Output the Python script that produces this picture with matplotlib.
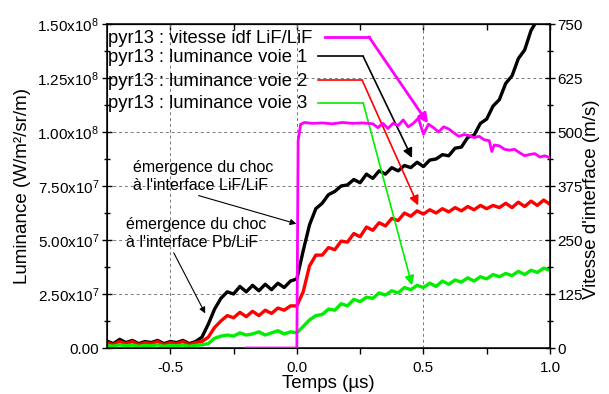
import numpy as np
import matplotlib
matplotlib.use("Agg")
import matplotlib.pyplot as plt

plt.rcParams['font.family'] = ['Liberation Sans', 'DejaVu Sans']
plt.rcParams['mathtext.fontset'] = 'custom'
plt.rcParams['mathtext.rm'] = 'Liberation Sans'
plt.rcParams['mathtext.it'] = 'Liberation Sans'

# temps (µs), pas de 0.025
t = np.linspace(-0.75, 1.0, 71)

# luminances (x1e7 W/m2/sr/m)
voie1 = [0.32, 0.20, 0.40, 0.25, 0.35, 0.20, 0.30, 0.25, 0.35, 0.20,
         0.30, 0.25, 0.35, 0.20, 0.30, 0.50, 1.10, 1.80, 2.30, 2.60,
         2.50, 2.85, 2.60, 2.90, 2.65, 2.95, 2.70, 3.00, 2.80, 3.10,
         3.20, 4.50, 5.70, 6.45, 6.70, 7.10, 7.25, 7.50, 7.55, 7.80,
         7.65, 8.05, 7.85, 8.20, 8.05, 8.35, 8.20, 8.45, 8.35, 8.60,
         8.40, 8.70, 8.75, 8.95, 8.90, 9.25, 9.30, 9.75, 9.85, 10.4,
         10.6, 11.2, 11.5, 12.25, 12.6, 13.4, 13.8, 14.7, 15.2, 16.1, 16.6]
voie2 = [0.25, 0.15, 0.30, 0.20, 0.30, 0.15, 0.25, 0.20, 0.30, 0.15,
         0.25, 0.20, 0.30, 0.15, 0.25, 0.30, 0.50, 0.95, 1.25, 1.50,
         1.40, 1.65, 1.45, 1.70, 1.50, 1.75, 1.60, 1.85, 1.75, 1.95,
         1.95, 2.60, 3.80, 4.30, 4.30, 4.65, 4.55, 4.95, 4.90, 5.30,
         5.15, 5.60, 5.45, 5.80, 5.65, 6.00, 5.90, 6.25, 6.10, 6.35,
         6.20, 6.40, 6.25, 6.45, 6.30, 6.50, 6.35, 6.55, 6.40, 6.60,
         6.45, 6.60, 6.50, 6.70, 6.50, 6.75, 6.55, 6.80, 6.60, 6.85, 6.65]
voie3 = [0.12, 0.08, 0.15, 0.10, 0.14, 0.08, 0.12, 0.10, 0.15, 0.08,
         0.12, 0.10, 0.14, 0.08, 0.12, 0.15, 0.20, 0.45, 0.55, 0.60,
         0.55, 0.70, 0.60, 0.65, 0.75, 0.60, 0.70, 0.80, 0.65, 0.75,
         0.70, 1.00, 1.30, 1.50, 1.55, 1.80, 1.75, 2.05, 1.95, 2.25,
         2.15, 2.35, 2.30, 2.55, 2.45, 2.65, 2.55, 2.80, 2.70, 2.90,
         2.80, 3.00, 2.85, 3.10, 2.95, 3.15, 3.05, 3.25, 3.10, 3.30,
         3.20, 3.40, 3.30, 3.45, 3.35, 3.55, 3.40, 3.60, 3.50, 3.70, 3.60]

# vitesse d'interface (m/s)
t_vit = [-0.2, 0.0, 0.005, 0.015, 0.03, 0.06, 0.10, 0.14, 0.18, 0.22,
         0.26, 0.30, 0.32, 0.34, 0.36, 0.38, 0.40, 0.42, 0.44, 0.46,
         0.48, 0.50, 0.52, 0.54, 0.56, 0.58, 0.60, 0.62, 0.64, 0.66,
         0.68, 0.70, 0.72, 0.74, 0.76, 0.77, 0.78, 0.80, 0.82, 0.84,
         0.86, 0.88, 0.90, 0.92, 0.94, 0.96, 0.98, 1.0]
vitesse = [0, 0, 480, 518, 522, 520, 521, 519, 522, 520,
           521, 519, 510, 520, 508, 520, 515, 528, 512, 520,
           532, 495, 518, 510, 500, 512, 507, 498, 490, 494,
           492, 487, 490, 482, 480, 455, 470, 468, 460, 458,
           460, 452, 445, 448, 450, 442, 445, 440]

yticks = [0, 2.5e7, 5e7, 7.5e7, 1e8, 1.25e8, 1.5e8]
ylabels = ['0.00', '2.50x10$^{7}$', '5.00x10$^{7}$', '7.50x10$^{7}$',
           '1.00x10$^{8}$', '1.25x10$^{8}$', '1.50x10$^{8}$']
vticks = [0, 125, 250, 375, 500, 625, 750]

fig = plt.figure(figsize=(6.09, 3.94), dpi=100)
ax = fig.add_axes([107/609, 1-348/394, 443/609, 324/394])

l1 = np.array(voie1)*1e7
l2 = np.array(voie2)*1e7
l3 = np.array(voie3)*1e7
ax.plot(t, l1, color='black', lw=2.4)
ax.plot(t, l2, color='#ff0000', lw=2.4)
ax.plot(t, l3, color='#00ee00', lw=2.4)

ax.set_xlim(-0.75, 1.0)
ax.set_ylim(0, 1.5e8)
ax.set_yticks(yticks)
ax.set_yticklabels(ylabels, fontsize=11)
ax.set_yticks([1.25e7, 3.75e7, 6.25e7, 8.75e7, 1.125e8, 1.375e8], minor=True)
ax.set_xticks([-0.5, 0.0, 0.5, 1.0])
ax.set_xticklabels(['-0.5', '0.0', '0.5', '1.0'], fontsize=11)
ax.set_xticks([-0.25, 0.25, 0.75], minor=True)
ax.grid(True, which='major', linestyle=(0, (3, 3)), color='#777777', lw=0.7)
ax.tick_params(axis='y', which='major', direction='inout', length=7, width=1, pad=2)
ax.tick_params(axis='y', which='minor', direction='inout', length=4.5, width=1)
ax.tick_params(axis='x', which='both', direction='out', length=4, width=1, pad=5)
for s in ax.spines.values():
    s.set_linewidth(1.1)

# ticks du haut vers l'interieur
top = ax.secondary_xaxis('top')
top.set_xticks([-0.5, 0.0, 0.5, 1.0])
top.set_xticks([-0.25, 0.25, 0.75], minor=True)
top.tick_params(which='both', direction='in', length=4, width=1, labeltop=False)

ax.set_ylabel('Luminance (W/m²/sr/m)', fontsize=13.5)
ax.yaxis.set_label_coords(-0.172, 0.5)
ax.set_xlabel('Temps (µs)', fontsize=13.5)
ax.xaxis.set_label_coords(0.5, -0.083)

ax2 = ax.twinx()
ax2.plot(t_vit, vitesse, color='#ff00ff', lw=2)
ax2.set_ylim(0, 750)
ax2.set_yticks(vticks)
ax2.set_yticklabels([str(v) for v in vticks], fontsize=11)
ax2.set_yticks([62.5, 187.5, 312.5, 437.5, 562.5, 687.5], minor=True)
ax2.tick_params(axis='y', which='major', direction='inout', length=7, width=1, pad=2)
ax2.tick_params(axis='y', which='minor', direction='inout', length=4.5, width=1)
ax2.set_ylabel("Vitesse d'interface (m/s)", fontsize=13.5)
ax2.yaxis.set_label_coords(1.075, 0.46)

# legende avec fleches (style Igor)
leg = [("pyr13 : vitesse idf LiF/LiF", '#ff00ff', 2.0, 14.35e7, 14.4e7, 0.112, 0.285, (0.518, 10.4e7)),
       ("pyr13 : luminance voie 1", 'black', 1.2, 13.45e7, 13.5e7, 0.084, 0.262, (0.455, 8.8e7)),
       ("pyr13 : luminance voie 2", '#ff0000', 1.2, 12.35e7, 12.4e7, 0.084, 0.258, (0.479, 6.6e7)),
       ("pyr13 : luminance voie 3", '#00ee00', 1.2, 11.3e7, 11.35e7, 0.084, 0.262, (0.455, 2.9e7))]
for txt, c, lw, ty, ly, x0, x1, tip in leg:
    ax.text(-0.745, ty, txt, fontsize=13.2, va='center', ha='left', zorder=6)
    ax.plot([x0, x1], [ly, ly], color=c, lw=lw, zorder=6)
    ax.annotate('', xy=tip, xytext=(x1, ly),
                arrowprops=dict(arrowstyle='-|>', color=c, lw=lw, shrinkA=0, shrinkB=0,
                                mutation_scale=14), zorder=6)

ax.annotate("émergence du choc\nà l'interface LiF/LiF", xy=(-0.002, 5.75e7), xytext=(-0.648, 7.95e7),
            fontsize=11.5, ha='left', va='center', linespacing=1.25,
            arrowprops=dict(arrowstyle='-|>', color='black', lw=0.8, shrinkA=0, shrinkB=0,
                            mutation_scale=9, relpos=(0.4, 0.0)))
ax.annotate("émergence du choc\nà l'interface Pb/LiF", xy=(-0.362, 1.6e7), xytext=(-0.675, 5.3e7),
            fontsize=11.5, ha='left', va='center', linespacing=1.25,
            arrowprops=dict(arrowstyle='-|>', color='black', lw=0.8, shrinkA=0, shrinkB=0,
                            mutation_scale=9, relpos=(0.33, 0.0)))

fig.savefig('out.png', dpi=100)
